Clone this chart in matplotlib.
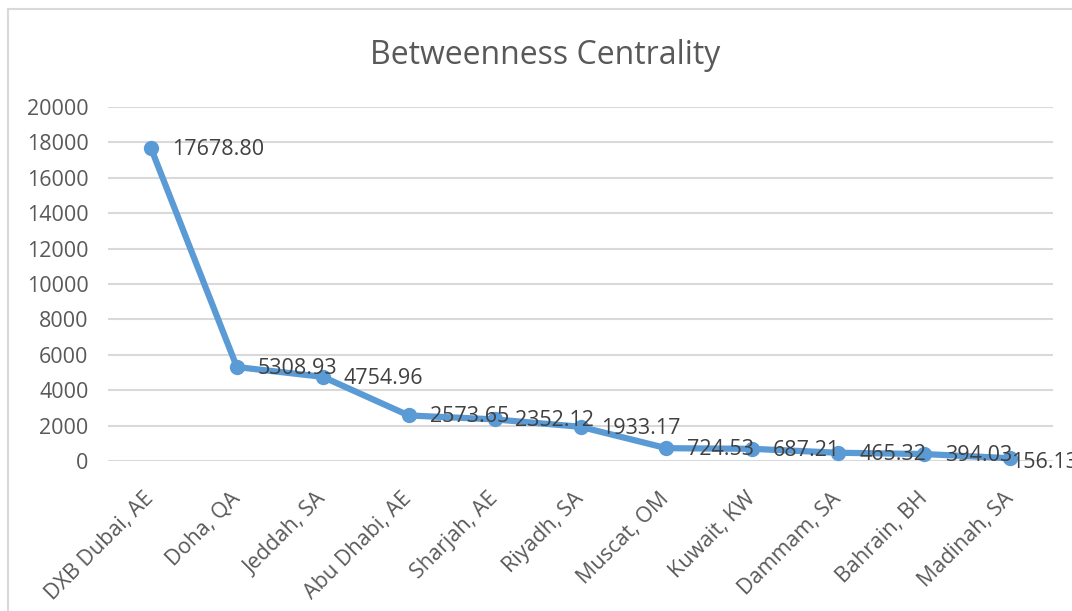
import matplotlib
matplotlib.use("Agg")
import matplotlib.pyplot as plt
from matplotlib.lines import Line2D

categories = ["DXB Dubai, AE", "Doha, QA", "Jeddah, SA", "Abu Dhabi, AE", "Sharjah, AE",
              "Riyadh, SA", "Muscat, OM", "Kuwait, KW", "Dammam, SA", "Bahrain, BH", "Madinah, SA"]
values = [17678.80, 5308.93, 4754.96, 2573.65, 2352.12, 1933.17, 724.53, 687.21, 465.32, 394.03, 156.13]
yticks = list(range(0, 20001, 2000))

plt.rcParams['font.family'] = ['Open Sans', 'DejaVu Sans']

W, H = 1072, 611
fig = plt.figure(figsize=(W / 100, H / 100), dpi=100)
fig.patch.set_facecolor('white')

# chart border (Excel style)
fig.add_artist(Line2D([8 / W, 8 / W], [0, 1 - 9 / H], transform=fig.transFigure, color='#d9d9d9', lw=1.5))
fig.add_artist(Line2D([8 / W, 1], [1 - 9 / H, 1 - 9 / H], transform=fig.transFigure, color='#d9d9d9', lw=1.5))

left, right = 108 / W, 1053 / W
bottom, top = 1 - 461 / H, 1 - 107 / H
ax = fig.add_axes([left, bottom, right - left, top - bottom])

x = list(range(len(categories)))
ax.plot(x, values, color='#5B9BD5', lw=4.5, marker='o', markersize=10,
        markerfacecolor='#5B9BD5', markeredgecolor='#5B9BD5', solid_joinstyle='round', zorder=3, clip_on=False)

for i, (xi, v) in enumerate(zip(x, values)):
    last = i == len(values) - 1
    dx = 15 if not last else 1
    dy = -1 if not last else -3
    ax.annotate(f"{v:.2f}", (xi, v), xytext=(dx, dy), textcoords='offset points',
                ha='left', va='center', fontsize=15.5, color='#404040', zorder=4,
                annotation_clip=False)

ax.set_xlim(-0.5, len(categories) - 0.5)
ax.set_ylim(0, 20000)
ax.set_yticks(yticks)
ax.set_yticklabels([str(t) for t in yticks], fontsize=15.5, color='#595959')
ax.set_xticks(x)
ax.set_xticklabels(categories, rotation=45, ha='right', va='center', rotation_mode='anchor',
                   fontsize=15.5, color='#595959')
ax.tick_params(axis='y', length=0, pad=14)
ax.tick_params(axis='x', length=0, pad=25)

ax.grid(axis='y', color='#d9d9d9', lw=1.5)
ax.set_axisbelow(True)
for s in ax.spines.values():
    s.set_visible(False)

fig.text(545 / W, 1 - 55 / H, "Betweenness Centrality", ha='center', va='center', fontsize=23, color='#595959')

fig.savefig("out.png", dpi=100)
